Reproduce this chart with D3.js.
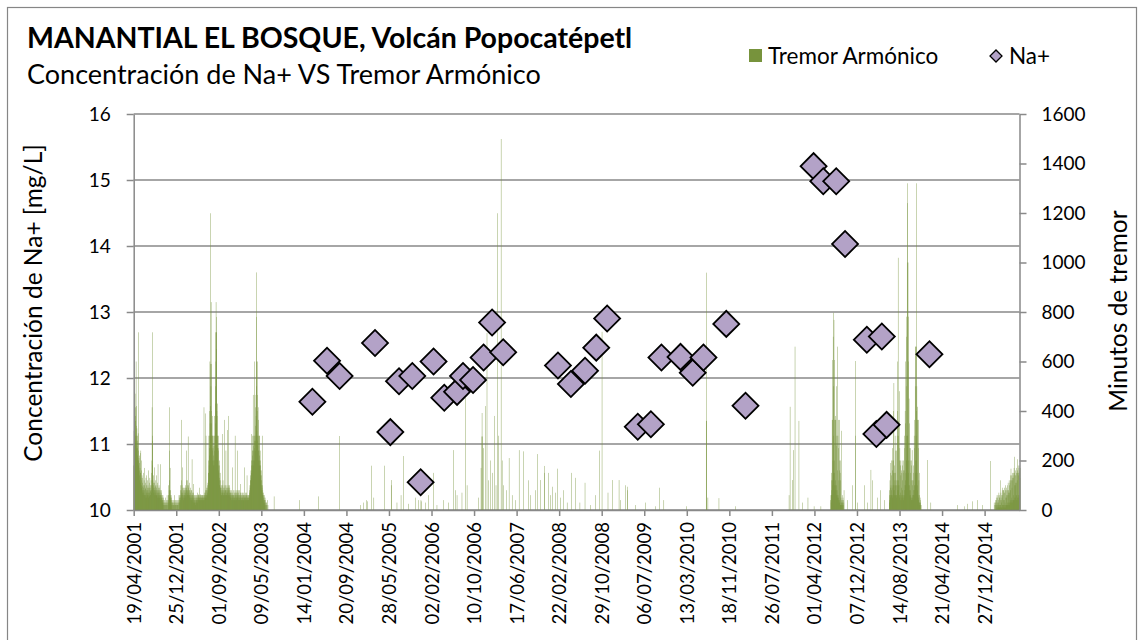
<!DOCTYPE html>
<html lang="es">
<head>
<meta charset="utf-8">
<title>Manantial El Bosque - Na+ vs Tremor Armónico</title>
<script src="https://cdn.jsdelivr.net/npm/d3@7"></script>
<style>
  body { margin: 0; background: #fff; }
  svg text { font-family: Lato, "Open Sans", sans-serif; fill: #000; }
  .grid line { stroke: #898989; stroke-width: 1.5; }
  .axis path, .axis line { stroke: #898989; stroke-width: 1.5; }
  .axis text { font-size: 19px; }
  .xaxis text { font-size: 18.5px; }
</style>
</head>
<body>
<svg width="1145" height="640"></svg>
<script>
// Na+ samples (mg/L)
var naDates = ["2004-03-04","2004-05-29","2004-08-11","2005-03-07","2005-06-05","2005-07-26","2005-10-12",
  "2005-11-30","2006-02-14","2006-04-18","2006-07-02","2006-08-06","2006-10-04","2006-12-05","2007-01-24",
  "2007-03-30","2008-02-15","2008-05-01","2008-07-23","2008-09-27","2008-11-30","2009-05-29","2009-08-14",
  "2009-10-15","2010-02-04","2010-04-17","2010-06-19","2010-10-31","2011-02-21","2012-03-27","2012-05-23",
  "2012-08-07","2012-09-28","2013-02-03","2013-05-02","2013-03-31","2013-05-30","2014-02-06"];
var naValues = [11.64,12.26,12.03,12.53,11.18,11.95,12.03,10.42,12.25,11.70,11.79,12.03,11.97,12.31,12.84,
  12.39,12.19,11.91,12.11,12.46,12.90,11.26,11.30,12.31,12.32,12.08,12.31,12.82,11.58,15.21,14.98,
  14.98,14.03,12.58,12.63,11.15,11.29,12.36];

// tremor minutes: runs of consecutive daily values
var tremorRuns = [
  ["2001-04-19", [
    180,260,320,410,478,350,300,260,470,380, 300,415,360,280,600,340,250,300,420,330,
    260,300,220,250,280,200,310,180,240,200, 718,210,160,190,140,220,120,170,150,230,
    110,150,240,130,100,160,200,90,120,140, 80,110,95,130,70,60,100,150,80,90,
    70,120,60,80,170,100,60,50,90,110, 60,85,130,70,50,100,140,80,60,70,
    90,60,120,80,100,50,70,160,90,60, 80,110,70,55,90,130,60,75,100,80,
    60,90,120,70,80,100,150,200,415,280, 718,300,180,120,90,140,100,70,110,80,
    90,172,80,60,110,70,95,60,80,100, 120,70,90,60,140,80,60,100,70,50,
    80,110,60,185,70,90,60,80,50,100, 60,80,90,50,70,60,185,80,60,40,
    50,70,40,60,80,50,30,60,40,50, 30,40,60,20,50,30,0,40,20,30,
    0,20,40,0,30,0,20,50,0,30, 20,0,40,30,0,20,60,0,30,0,
    40,20,0,30,60,40,100,60,80,50, 240,415,120,80,170,60,40,80,50,30,
    60,40,30,50,20,0,40,30,0,20, 30,0,20,40,0,30,20,0,60,20,
    0,30,40,0,20,30,0,40,20,0, 30,20,0,40,0,20,30,0,20,40,
    0,20,30,0,40,0,60,30,0,50, 40,60,30,50,80,40,60,100,50,70,
    364,120,60,80,100,50,70,172,60,90, 60,80,50,90,40,60,70,50,80,60,
    90,60,80,100,70,60,90,50,80,120, 240,90,60,80,70,100,60,120,80,60,
    297,100,80,60,90,70,110,60,80,50, 60,80,40,70,50,90,60,40,80,50,
    60,40,80,205,60,50,70,40,60,30, 50,70,40,105,60,30,50,40,60,30,
    40,60,30,50,20,40,60,30,50,40, 60,40,50,30,60,40,70,50,40,60,
    50,63,40,60,50,40,90,50,60,40, 50,60,40,63,50,40,60,50,40,60,
    50,40,60,50,60,40,50,60,40,50, 60,50,40,415,60,50,70,40,60,50,
    390,80,60,50,70,300,60,80,50,90, 60,80,100,70,90,60,110,80,150,120,
    150,200,300,180,250,400,220,300,600,350, 420,590,300,1199,500,840,400,590,350,300,
    250,380,300,240,300,200,250,180,300,220, 200,260,180,300,240,380,200,260,300,430,
    350,500,718,600,840,718,650,780,718,400, 380,300,430,250,300,200,250,180,240,160,
    300,150,120,180,100,200,130,100,150,90, 90,80,120,70,60,100,80,60,90,70,
    307,80,60,100,70,120,60,90,80,60, 70,100,60,80,364,70,90,60,80,100,
    60,80,240,70,60,90,80,60,100,70, 323,80,60,90,70,100,60,80,380,90,
    60,80,70,100,60,90,50,70,80,60, 50,70,60,40,80,60,50,70,40,60,
    172,60,50,70,40,60,80,50,60,40, 50,70,40,60,50,80,300,60,50,70,
    40,60,80,50,70,40,60,50,80,60, 240,50,70,60,40,80,60,50,70,40,
    60,80,50,40,60,50,70,40,105,60, 50,70,40,60,50,40,60,50,70,40,
    60,50,40,70,60,40,50,60,40,50, 172,60,50,40,60,50,70,40,60,50,
    40,60,50,70,40,60,140,50,60,40, 50,40,60,50,40,60,50,40,60,50,
    60,80,70,100,90,120,100,140,120,160, 130,200,150,180,307,160,200,240,180,220,
    300,240,465,200,260,180,300,240,200,280, 600,300,250,465,280,340,240,415,300,380,
    780,960,500,600,320,400,465,280,600,300, 260,415,240,300,200,364,240,180,300,220,
    200,300,180,240,160,200,140,180,120,160, 100,140,80,120,90,300,70,100,60,80,
    60,50,70,40,60,30,50,40,60,30, 40,20,50,30,0,40,20,0,30,20,
    0,30,0,20,0,0,40,0,0,20]],
  ["2012-07-06", [
    40,60,30,80,150,60,120,60,364,100, 364,120,606,200,700,150,797,300,500,768,
    200,150,606,100,364,80,380,120,364,100, 364,80,500,100,260,60,300,80,160,60,
    660,50,300,60,364,40,250,50,120,30, 160,364,40,200,30,150,20,200,20,120,
    50,20,320,30,40,20,30,60,20,40, 30,0,50,20,0,40,0,30,80,0]],
  ["2013-06-15", [
    40,80,30,60,120,50,90,60,150,190, 100,60,140,80,200,60,90,160,50,250,
    60,200,100,150,400,80,200,513,100,180, 80,150,60,120,300,60,240,100,150,60,
    120,60,100,50,240,60,300,80,400,120, 600,100,1019,120,300,80,360,100,480,60,
    200,50,250,60,180,40,200,70,140,50, 150,60,90,160,40,200,60,180,80,120,
    50,150,40,200,60,160,50,160,60,250, 80,300,100,400,120,350,100,600,150,500,
    200,700,300,781,200,1000,300,1320,1240,300, 1000,200,781,150,600,100,450,100,350,80,
    250,60,200,80,150,60,250,50,120,40, 200,50,180,40,242,60,120,50,100,40,
    120,60,150,80,180,60,300,80,250,100, 364,100,500,150,660,200,660,300,1320,400,
    660,200,500,150,417,100,364,80,364,60, 364,50,250,40,120,30,150,30,60,20,
    30,50,20,40,0,30,0,20,0,0]],
  ["2015-02-25", [
    20,0,30,0,40,20,0,30,50,20, 0,40,10,60,20,10,30,50,0,60,
    20,30,10,40,70,10,50,20,60,10, 50,20,40,10,120,20,70,10,60,30,
    40,10,50,80,20,60,10,90,20,40, 80,20,80,10,70,40,20,90,10,70,
    30,80,20,100,10,50,20,60,90,20, 50,80,20,100,30,60,20,80,110,30,
    70,20,80,60,120,20,70,100,30,110, 40,120,30,80,140,167,40,120,30,140,
    50,90,130,40,150,30,120,140,40,130, 60,150,40,170,215,50,100,150,40,140,
    110,160,50,100,140,60,170,40,150,110, 60,120,160,205,50,150,40,180,140,60,
    150,50,170,150,60,160,40,180,130,170]]
];

// isolated tremor days
var tremorSpikes = [
  ["2003-07-23",55],["2003-12-19",40],["2004-04-09",55],["2004-08-11",299],["2004-12-11",20],
  ["2004-12-31",30],["2005-01-15",40],["2005-01-23",35],["2005-02-16",179],["2005-02-28",50],
  ["2005-05-02",179],["2005-06-10",100],["2005-06-11",121],["2005-07-14",30],["2005-08-07",60],
  ["2005-08-22",218],["2005-09-20",25],["2005-10-30",50],["2005-11-18",40],["2005-12-02",40],
  ["2005-12-03",35],["2005-12-27",30],["2006-01-16",60],["2006-02-14",150],["2006-03-06",20],
  ["2006-04-14",40],["2006-05-14",30],["2006-06-12",242],["2006-06-22",80],["2006-07-02",60],
  ["2006-07-31",70],["2006-08-20",453],["2006-08-30",100],["2006-11-06",50],["2006-11-20",170],
  ["2006-11-25",297],["2006-11-26",392],["2006-11-27",297],["2006-12-05",250],["2006-12-15",420],
  ["2006-12-25",715],["2007-01-04",120],["2007-01-14",200],["2007-01-28",150],["2007-02-08",380],
  ["2007-02-16",100],["2007-02-26",1199],["2007-03-04",300],["2007-03-18",1499],["2007-03-24",200],
  ["2007-04-02",100],["2007-04-18",80],["2007-05-04",210],["2007-05-22",60],["2007-06-10",40],
  ["2007-07-02",242],["2007-07-26",237],["2007-08-27",120],["2007-09-06",60],["2007-10-06",80],
  ["2007-10-17",226],["2007-11-06",121],["2007-11-27",150],["2007-11-28",178],["2007-12-23",150],
  ["2008-01-02",60],["2008-01-15",94],["2008-01-31",70],["2008-02-14",167],["2008-03-01",50],
  ["2008-03-20",80],["2008-04-09",30],["2008-05-05",150],["2008-05-29",130],["2008-06-23",30],
  ["2008-07-23",110],["2008-08-25",20],["2008-09-23",60],["2008-10-15",240],["2008-10-31",720],
  ["2008-12-05",70],["2008-12-31",121],["2009-02-08",121],["2009-02-18",40],["2009-03-19",100],
  ["2009-03-29",94],["2009-03-30",80],["2009-05-16",20],["2009-07-15",30],["2009-09-11",15],
  ["2009-10-04",90],["2009-10-29",40],["2010-03-12",15],["2010-07-05",360],["2010-07-06",959],
  ["2010-07-07",360],["2010-07-15",50],["2010-09-18",48],["2010-12-25",15],["2011-11-04",60],
  ["2011-11-10",417],["2011-11-24",121],["2011-11-29",242],["2011-12-09",660],["2012-01-01",360],
  ["2012-01-21",30],["2012-02-23",50],["2012-03-30",15],["2012-05-09",15],["2012-10-13",40],
  ["2012-11-11",100],["2012-11-27",602],["2012-11-28",300],["2012-12-11",30],["2013-01-19",100],
  ["2013-02-08",30],["2013-02-27",162],["2013-03-09",120],["2013-04-08",50],["2013-04-26",80],
  ["2013-05-16",40],["2014-01-26",202],["2014-02-14",30],["2014-07-21",20],["2014-08-29",15],
  ["2014-09-18",25],["2014-10-17",35],["2014-11-16",40],["2014-12-15",20],["2015-01-29",198],
  ["2015-02-21",30]
];

var xTickLabels = ["19/04/2001","25/12/2001","01/09/2002","09/05/2003","14/01/2004","20/09/2004",
  "28/05/2005","02/02/2006","10/10/2006","17/06/2007","22/02/2008","29/10/2008","06/07/2009",
  "13/03/2010","18/11/2010","26/07/2011","01/04/2012","07/12/2012","14/08/2013","21/04/2014","27/12/2014"];
var leftTicks = [10, 11, 12, 13, 14, 15, 16];
var rightTicks = [0, 200, 400, 600, 800, 1000, 1200, 1400, 1600];

var parseIso = d3.timeParse("%Y-%m-%d"),
    parseDmy = d3.timeParse("%d/%m/%Y");

var svg = d3.select("svg");

// plot area edges
var plotL = 133.7, plotR = 1019.5, plotT = 114, plotB = 510;

var x = d3.scaleTime()
    .domain([parseIso("2001-04-19"), parseIso("2015-07-20")])
    .range([plotL, plotR]);
var yNa = d3.scaleLinear().domain([10, 16]).range([plotB, plotT]);
var yTr = d3.scaleLinear().domain([0, 1600]).range([plotB, plotT]);

// flatten tremor data
var tremor = [];
tremorRuns.forEach(function(r) {
  var start = parseIso(r[0]);
  r[1].forEach(function(v, i) {
    if (v > 0) tremor.push({ date: d3.timeDay.offset(start, i), value: v });
  });
});
tremorSpikes.forEach(function(s) {
  tremor.push({ date: parseIso(s[0]), value: s[1] });
});

var na = naDates.map(function(d, i) { return { date: parseIso(d), value: naValues[i] }; });

// chart area border
svg.append("rect")
    .attr("x", 7.5).attr("y", 7.5)
    .attr("width", 1129).attr("height", 700)
    .attr("fill", "#fff")
    .attr("stroke", "#868686")
    .attr("stroke-width", 1.2);

// titles
svg.append("text")
    .attr("x", 27).attr("y", 48)
    .style("font-size", "28.5px").style("font-weight", "bold")
    .text("MANANTIAL EL BOSQUE, Volcán Popocatépetl");
svg.append("text")
    .attr("x", 27).attr("y", 84)
    .style("font-size", "27px")
    .text("Concentración de Na+ VS Tremor Armónico");

// gridlines
svg.append("g").attr("class", "grid")
  .selectAll("line").data(leftTicks).enter().append("line")
    .attr("x1", plotL).attr("x2", plotR)
    .attr("y1", function(d) { return yNa(d); })
    .attr("y2", function(d) { return yNa(d); });

// tremor bars
svg.append("g")
  .selectAll("rect").data(tremor).enter().append("rect")
    .attr("x", function(d) { return x(d.date) - 0.2; })
    .attr("width", 0.4)
    .attr("y", function(d) { return yTr(d.value); })
    .attr("height", function(d) { return plotB - yTr(d.value); })
    .attr("fill", "#77933C");

// axes
var tickDates = xTickLabels.map(function(s) { return parseDmy(s); });

var gx = svg.append("g").attr("class", "axis xaxis")
    .attr("transform", "translate(0," + plotB + ")")
    .call(d3.axisBottom(x).tickValues(tickDates).tickSize(6).tickSizeOuter(0)
      .tickFormat(function(d, i) { return xTickLabels[i]; }));
gx.selectAll("text")
    .attr("transform", "rotate(-90)")
    .attr("x", -12).attr("y", 0).attr("dy", "0.35em")
    .style("text-anchor", "end");

svg.append("g").attr("class", "axis")
    .attr("transform", "translate(" + plotL + ",0)")
    .call(d3.axisLeft(yNa).tickValues(leftTicks).tickFormat(d3.format("d"))
      .tickSize(7).tickSizeOuter(0).tickPadding(16));

svg.append("g").attr("class", "axis")
    .attr("transform", "translate(" + plotR + ",0)")
    .call(d3.axisRight(yTr).tickValues(rightTicks).tickFormat(d3.format("d"))
      .tickSize(7).tickSizeOuter(0).tickPadding(15));

svg.selectAll(".axis .domain").attr("stroke", "#898989");

// axis titles
svg.append("text")
    .attr("transform", "translate(33,303) rotate(-90)")
    .attr("dy", "0.35em")
    .style("font-size", "24.5px").style("text-anchor", "middle")
    .text("Concentración de Na+ [mg/L]");
svg.append("text")
    .attr("transform", "translate(1118,311) rotate(-90)")
    .attr("dy", "0.35em")
    .style("font-size", "24.5px").style("text-anchor", "middle")
    .text("Minutos de tremor");

// Na+ diamonds
var diamond = d3.symbol().type(d3.symbolSquare).size(338);
svg.append("g")
  .selectAll("path").data(na).enter().append("path")
    .attr("d", diamond)
    .attr("transform", function(d) {
      return "translate(" + x(d.date) + "," + yNa(d.value) + ") rotate(45)";
    })
    .attr("fill", "#B3A2C7")
    .attr("stroke", "#000")
    .attr("stroke-width", 1.8);

// legend
var legend = svg.append("g");
legend.append("rect")
    .attr("x", 749).attr("y", 49).attr("width", 13).attr("height", 13)
    .attr("fill", "#77933C");
legend.append("text")
    .attr("x", 768).attr("y", 64).style("font-size", "22.5px")
    .text("Tremor Armónico");
legend.append("path")
    .attr("d", d3.symbol().type(d3.symbolSquare).size(72))
    .attr("transform", "translate(996,56) rotate(45)")
    .attr("fill", "#B3A2C7").attr("stroke", "#000").attr("stroke-width", 1.3);
legend.append("text")
    .attr("x", 1009).attr("y", 64).style("font-size", "22.5px")
    .text("Na+");
</script>
</body>
</html>
